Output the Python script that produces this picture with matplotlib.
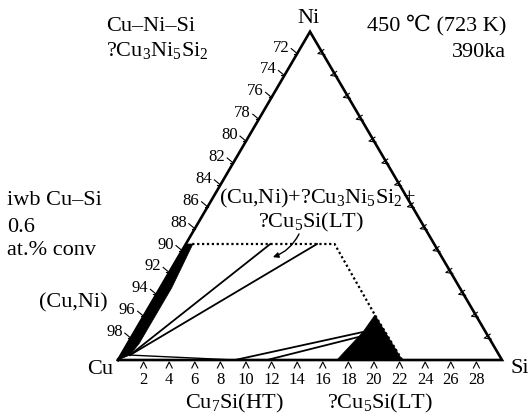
import numpy as np
import matplotlib
matplotlib.use("Agg")
import matplotlib.pyplot as plt

plt.rcParams['font.family'] = ['Liberation Serif', 'DejaVu Serif', 'Noto Sans CJK SC']
plt.rcParams['mathtext.fontset'] = 'custom'
plt.rcParams['mathtext.rm'] = 'Liberation Serif'
plt.rcParams['mathtext.it'] = 'Liberation Serif:italic'

# Composition window: 0-30 at.% Si and Ni, Cu balance
SPAN = 30
tick_values = list(range(2, 30, 2))
cu_tick_labels = [str(100 - v) for v in tick_values]   # at.% Cu along the Cu-Ni edge
si_tick_labels = [str(v) for v in tick_values]          # at.% Si along the Cu-Si edge

# (Cu,Ni) single-phase field (at.% Si, at.% Ni)
cuni_si = [0.0, 0.0, 0.55, 0.9, 0.9, 0.7]
cuni_ni = [0.0, 10.6, 10.6, 6.6, 1.5, 0.45]
# (Cu,Ni) solvus running out to the Cu-Si binary
cuni_solvus_si = [0.7, 5.8, 9.1]
cuni_solvus_ni = [0.45, 0.18, 0.0]

# ?Cu5Si(LT) field
cu5si_si = [17.1, 17.86, 18.02, 22.2]
cu5si_ni = [0.0, 2.56, 4.11, 0.0]

# dotted three-phase boundary
boundary_si = [0.5, 11.62, 18.02, 22.2]
boundary_ni = [10.6, 10.6, 4.11, 0.0]

# tie lines
tie_si_start = [0.71, 0.71, 9.14, 11.64]
tie_ni_start = [0.45, 0.45, 0.0, 0.0]
tie_si_end = [6.6, 10.25, 17.86, 17.73]
tie_ni_end = [10.6, 10.6, 2.56, 2.1]

# composition marked by the pointer of the three-phase label
pointer_si, pointer_ni = 7.4, 9.4

W, H = 528, 416
X0, Y0 = 118, 360          # Cu corner in pixels
SX, SY = 12.8, 12.637      # pixels per composition unit
SQ = np.sqrt(3) / 2


def tern(si, ni):
    si = np.asarray(si, float)
    ni = np.asarray(ni, float)
    return si + ni / 2, ni * SQ


def dpx(px, py):
    """pixel offset (right, down) -> data offset"""
    return px / SX, -py / SY


fig = plt.figure(figsize=(W / 100, H / 100), dpi=100)
ax = fig.add_axes([0, 0, 1, 1])
ax.set_xlim(-X0 / SX, (W - X0) / SX)
ax.set_ylim(-(H - Y0) / SY, Y0 / SY)
ax.axis('off')


def ptext(x, y, s, size=16, **kw):
    ax.text(x / W, 1 - y / H, s, transform=ax.transAxes, fontsize=size,
            color='black', **kw)


def polyline(p, pts, **kw):
    xs = [p[0] + dpx(a, b)[0] for a, b in pts]
    ys = [p[1] + dpx(a, b)[1] for a, b in pts]
    ax.plot(xs, ys, **kw)


# phase fields
x, y = tern(cuni_si, cuni_ni)
ax.fill(x, y, color='black', lw=0.5, zorder=3)
x, y = tern(cu5si_si, cu5si_ni)
ax.fill(x, y, color='black', lw=0.5, zorder=3)
x, y = tern(cuni_solvus_si, cuni_solvus_ni)
ax.plot(x, y, color='black', lw=1.0, zorder=3)

# tie lines
for s0, n0, s1, n1 in zip(tie_si_start, tie_ni_start, tie_si_end, tie_ni_end):
    x, y = tern([s0, s1], [n0, n1])
    ax.plot(x, y, color='black', lw=1.3, zorder=3)

# dotted boundary
x, y = tern(boundary_si, boundary_ni)
ax.plot(x, y, color='black', lw=1.6, ls=(0, (1, 1.2)), zorder=4)

# triangle frame
x, y = tern([0, SPAN, 0, 0], [0, 0, SPAN, 0])
ax.plot(x, y, color='black', lw=1.9, solid_joinstyle='miter', zorder=5)

# ticks
tk = dict(color='black', lw=0.8, zorder=5)
for v, lab in zip(tick_values, si_tick_labels):
    p = tern(v, 0)
    polyline(p, [(-3, 8), (0, 2), (3, 8)], **tk)
    ax.text(p[0], p[1] + dpx(0, 20)[1], lab, ha='center', va='center', fontsize=12)

for v, lab in zip(tick_values, cu_tick_labels):
    p = tern(0, v)
    polyline(p, [(-6, -5), (0, 0)], **tk)
    polyline(p, [(-3, 0), (0, 0)], **tk)
    ax.text(p[0] + dpx(-8, 0)[0], p[1] + dpx(0, -6)[1], lab, ha='right', va='center',
            fontsize=12)

for v in tick_values:
    p = tern(SPAN - v, v)
    polyline(p, [(1, -4), (-5, 0), (2, 1)], **tk)

# corner labels
ptext(308, 23, 'Ni', ha='center', va='baseline')
ptext(113, 374, 'Cu', ha='right', va='baseline')
ptext(510, 373, 'Si', ha='left', va='baseline')

# header texts
ptext(106, 31, 'Cu\u2013Ni\u2013Si', ha='left', va='baseline')
ptext(106, 56, r'?Cu$_\mathregular{3}$Ni$_\mathregular{5}$Si$_\mathregular{2}$',
      ha='left', va='baseline')
ptext(506, 30, '450 \u2103 (723 K)', ha='right', va='baseline')
ptext(506, 57, '390ka', ha='right', va='baseline')
ptext(7, 205, 'iwb Cu\u2013Si', ha='left', va='baseline')
ptext(7, 232, '0.6', ha='left', va='baseline')
ptext(7, 255, 'at.% conv', ha='left', va='baseline')
ptext(39, 307, '(Cu,Ni)', ha='left', va='baseline')

# phase labels
ptext(219, 203, r'(Cu,Ni)+?Cu$_\mathregular{3}$Ni$_\mathregular{5}$Si$_\mathregular{2}$+',
      ha='left', va='baseline')
ptext(258, 227, r'?Cu$_\mathregular{5}$Si(LT)', ha='left', va='baseline')
ptext(185, 408, r'Cu$_\mathregular{7}$Si(HT)', ha='left', va='baseline')
ptext(327, 408, r'?Cu$_\mathregular{5}$Si(LT)', ha='left', va='baseline')

# pointer from the label into the three-phase field
hx, hy = tern(pointer_si, pointer_ni)
ax.annotate('', xy=(hx, hy), xytext=(299 / W, 1 - 234 / H),
            textcoords='axes fraction',
            arrowprops=dict(arrowstyle='-|>', color='black', lw=1.0,
                            mutation_scale=8, shrinkA=0, shrinkB=0,
                            connectionstyle='arc3,rad=-0.2'))

fig.savefig('out.png', dpi=100)
